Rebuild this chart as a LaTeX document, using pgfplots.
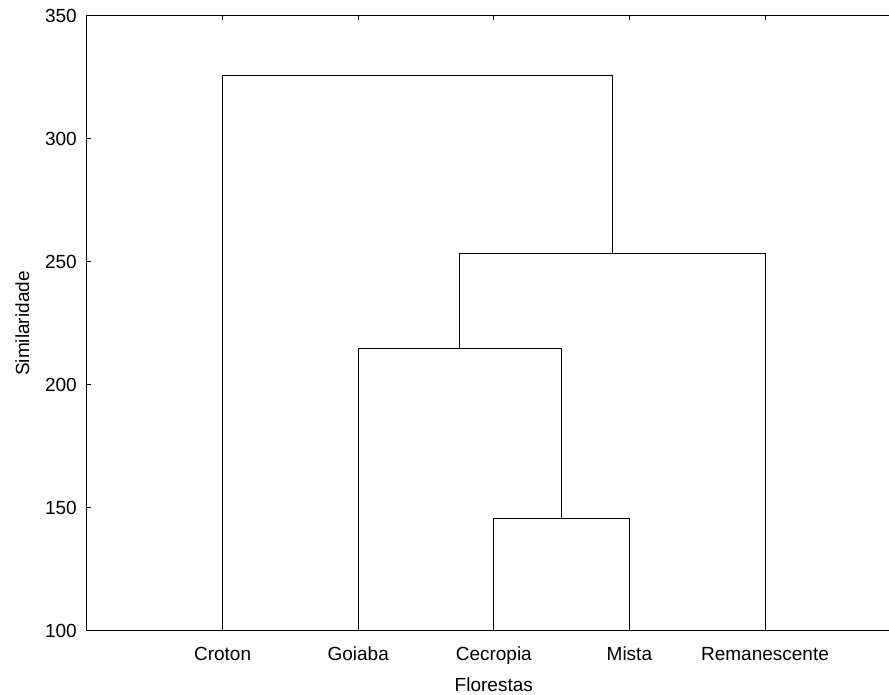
\documentclass[border=0pt]{standalone}
\usepackage{fontspec}
\setmainfont{Liberation Sans}
\usepackage{pgfplots}
\pgfplotsset{compat=1.18}
\begin{document}
\fontsize{19}{22}\selectfont
\begin{tikzpicture}
\begin{axis}[
  at={(87pt,64pt)}, anchor=south west,
  scale only axis, width=813.6pt, height=615pt,
  xmin=0, xmax=6, ymin=100, ymax=350,
  xtick={1,2,3,4,5},
  xticklabels={Croton,Goiaba,Cecropia,Mista,Remanescente},
  ytick={100,150,200,250,300,350},
  tick align=inside,
  major tick length=4pt,
  axis line style={line width=1pt},
  every tick/.style={black, line width=1pt},
  /pgf/number format/assume math mode=true,
  ticklabel style={font=\fontsize{19}{22}\selectfont},
  yticklabel style={xshift=-3.7pt},
  xticklabel style={anchor=base, yshift=-30pt},
  xlabel={Florestas},
  ylabel={Similaridade},
  label style={font=\fontsize{19}{22}\selectfont},
  xlabel style={at={(axis description cs:0.5,0)}, anchor=base, inner sep=0pt, yshift=-60.5pt},
  ylabel style={at={(axis description cs:0,0.5)}, anchor=base, yshift=58pt},
]
\addplot[black, line width=1pt] coordinates {(3,100) (3,145.8) (4,145.8) (4,100)};
\addplot[black, line width=1pt] coordinates {(2,100) (2,214.8) (3.5,214.8) (3.5,145.8)};
\addplot[black, line width=1pt] coordinates {(2.75,214.8) (2.75,253.3) (5,253.3) (5,100)};
\addplot[black, line width=1pt] coordinates {(1,100) (1,326) (3.875,326) (3.875,253.3)};
\end{axis}
\pgfresetboundingbox
\path[use as bounding box] (0,0) rectangle (889pt,695pt);
\end{tikzpicture}
\end{document}
